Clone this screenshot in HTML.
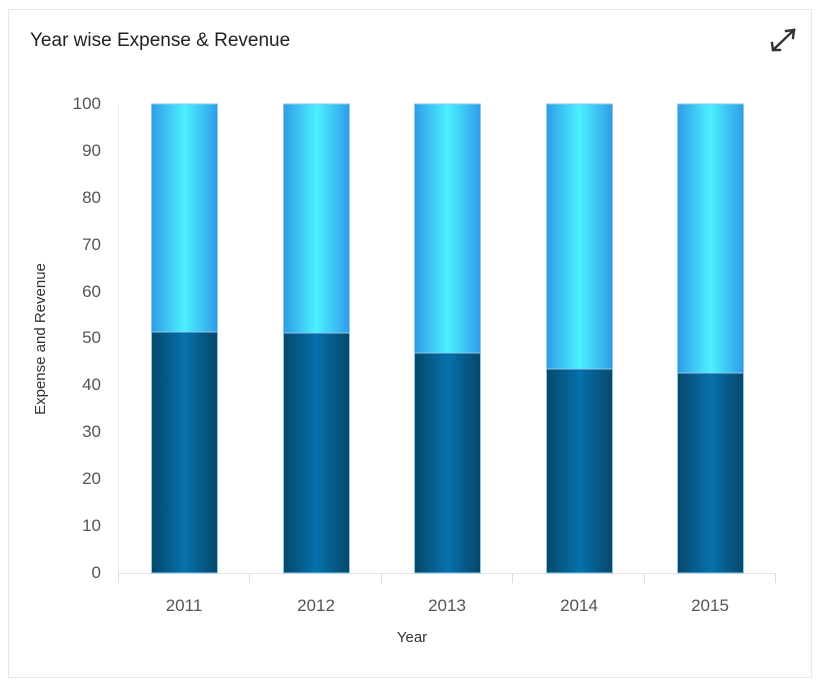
<!DOCTYPE html>
<html><head><meta charset="utf-8"><style>
html,body{margin:0;padding:0;background:#fff;}
body{width:822px;height:688px;position:relative;font-family:"Liberation Sans",sans-serif;}
</style></head><body>
<svg width="822" height="688" viewBox="0 0 822 688" xmlns="http://www.w3.org/2000/svg" style="position:absolute;left:0;top:0">
<defs>
<linearGradient id="lt" x1="0" x2="1" y1="0" y2="0">
<stop offset="0" stop-color="#2f9ce8"/><stop offset="0.5" stop-color="#4cf0ff"/><stop offset="1" stop-color="#2f9ce8"/>
</linearGradient>
<linearGradient id="dk" x1="0" x2="1" y1="0" y2="0">
<stop offset="0" stop-color="#07476b"/><stop offset="0.5" stop-color="#0671ac"/><stop offset="1" stop-color="#07476b"/>
</linearGradient>
</defs>
<rect x="8.5" y="9.5" width="803" height="668" fill="#fff" stroke="#e8e8e8"/>
<text x="30" y="46" font-size="19" fill="#222">Year wise Expense &amp; Revenue</text>
<g stroke="#333" stroke-width="2.4" fill="none" stroke-linecap="square">
<line x1="773" y1="50" x2="794" y2="30"/>
<polyline points="786,31 794,30 793,38"/>
<polyline points="772,43 773,50 780,50"/>
</g>
<line x1="118.5" y1="104" x2="118.5" y2="573" stroke="#eee"/>
<line x1="118" y1="573.5" x2="776" y2="573.5" stroke="#e4e4e4"/>
<g stroke="#ddd">
<line x1="118.5" y1="573" x2="118.5" y2="583"/>
<line x1="249.5" y1="573" x2="249.5" y2="583"/>
<line x1="381.5" y1="573" x2="381.5" y2="583"/>
<line x1="512.5" y1="573" x2="512.5" y2="583"/>
<line x1="644.5" y1="573" x2="644.5" y2="583"/>
<line x1="775.5" y1="573" x2="775.5" y2="583"/>
</g>
<g font-size="17" fill="#555" text-anchor="end">
<text x="101" y="109">100</text><text x="101" y="156">90</text><text x="101" y="203">80</text>
<text x="101" y="250">70</text><text x="101" y="297">60</text><text x="101" y="343">50</text>
<text x="101" y="390">40</text><text x="101" y="437">30</text><text x="101" y="484">20</text>
<text x="101" y="531">10</text><text x="101" y="578">0</text>
</g>
<g font-size="17" fill="#555" text-anchor="middle">
<text x="184" y="611">2011</text><text x="316" y="611">2012</text><text x="447" y="611">2013</text>
<text x="579" y="611">2014</text><text x="710" y="611">2015</text>
</g>
<text x="412" y="642" font-size="15" fill="#333" text-anchor="middle">Year</text>
<text transform="translate(45,339) rotate(-90)" font-size="15" fill="#333" text-anchor="middle">Expense and Revenue</text>
<g stroke="#8cc8e8" stroke-width="1">
<rect x="151.5" y="104" width="66" height="228" fill="url(#lt)"/>
<rect x="151.5" y="332" width="66" height="241" fill="url(#dk)"/>
<rect x="283.5" y="104" width="66" height="229" fill="url(#lt)"/>
<rect x="283.5" y="333" width="66" height="240" fill="url(#dk)"/>
<rect x="414.5" y="104" width="66" height="249" fill="url(#lt)"/>
<rect x="414.5" y="353" width="66" height="220" fill="url(#dk)"/>
<rect x="546.5" y="104" width="66" height="265" fill="url(#lt)"/>
<rect x="546.5" y="369" width="66" height="204" fill="url(#dk)"/>
<rect x="677.5" y="104" width="66" height="269" fill="url(#lt)"/>
<rect x="677.5" y="373" width="66" height="200" fill="url(#dk)"/>
</g>
</svg>
</body></html>
